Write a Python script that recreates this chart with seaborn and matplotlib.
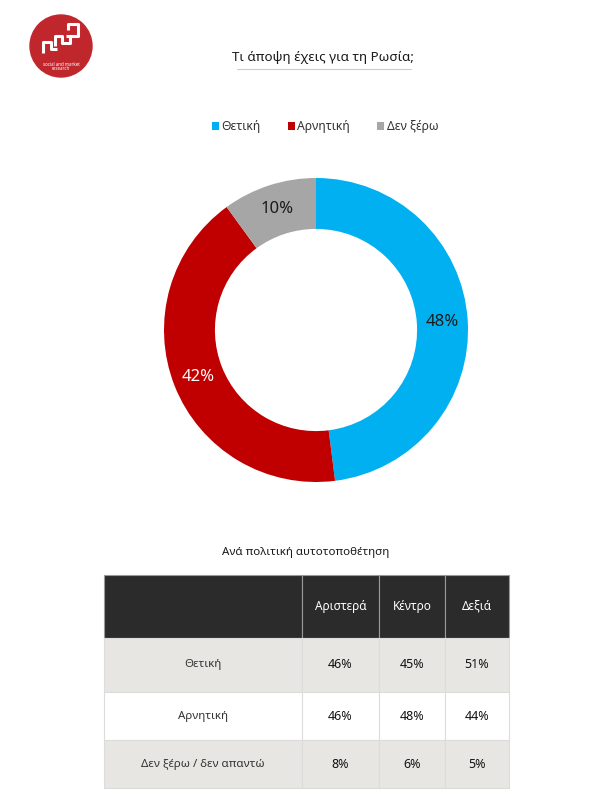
import numpy as np
import pandas as pd
import seaborn as sns
import matplotlib.pyplot as plt
from matplotlib.patches import Circle

sns.set_theme(style="white")
plt.rcParams['font.family'] = ['Noto Sans', 'DejaVu Sans']

# donut data
labels = ['Θετική', 'Αρνητική', 'Δεν ξέρω']
shares = [48, 42, 10]
colors = ['#00B0F0', '#C00000', '#A6A6A6']
label_colors = ['#1a1a1a', 'white', '#1a1a1a']

# table data
groups = ['Αριστερά', 'Κέντρο', 'Δεξιά']
answers = ['Θετική', 'Αρνητική', 'Δεν ξέρω / δεν απαντώ']
positive = [46, 45, 51]
negative = [46, 48, 44]
dontknow = [8, 6, 5]

title = 'Τι άποψη έχεις για τη Ρωσία;'
table_title = 'Ανά πολιτική αυτοτοποθέτηση'

W, H = 598, 806
fig = plt.figure(figsize=(W / 100, H / 100), dpi=100)
fig.patch.set_facecolor('white')

# overlay axes in pixel coords for decoration
ov = fig.add_axes([0, 0, 1, 1])
ov.set_xlim(0, W)
ov.set_ylim(H, 0)
ov.axis('off')

# logo
ov.add_patch(Circle((61, 46), 31, color='#C0272D'))
ov.plot([43, 43, 51, 51, 57], [53, 42, 42, 49, 49], color='white', lw=2.2, solid_capstyle='butt')
ov.plot([55, 55, 62, 62, 70, 70], [46, 36, 36, 43, 43, 36], color='white', lw=2.2, solid_capstyle='butt')
ov.plot([66, 78, 78, 68, 68], [36, 36, 24, 24, 30], color='white', lw=2.2, solid_capstyle='butt')
ov.text(61, 64, 'social and market', color='white', fontsize=3.2, ha='center', va='center')
ov.text(61, 69, 'research', color='white', fontsize=3.2, ha='center', va='center')

# title + underline
ov.text(323, 57, title, fontsize=9.6, ha='center', va='center', color='#1a1a1a')
ov.plot([237, 411], [69, 69], color='#cccccc', lw=0.8)
ov.text(306, 553, table_title, fontsize=8.3, ha='center', va='center', color='#1a1a1a')

# donut
ax = fig.add_axes([164 / W, 1 - 482 / H, 304 / W, 304 / H])
wedges, texts, autotexts = ax.pie(
    shares, colors=colors, startangle=90, counterclock=False,
    autopct='%d%%', pctdistance=0.835,
    wedgeprops=dict(width=0.335, edgecolor='none'),
    textprops=dict(fontsize=12))
for t, c in zip(autotexts, label_colors):
    t.set_color(c)
ax.set_xlim(-1, 1)
ax.set_ylim(-1, 1)
ax.set_aspect('equal')

leg = ax.legend(wedges, labels, loc='center', bbox_to_anchor=(0.53, 1.168),
                ncol=3, frameon=False, fontsize=8.8, handlelength=0.6,
                handleheight=0.6, handletextpad=0.2, columnspacing=2.2)
for t in leg.get_texts():
    t.set_color('#333333')

# table
tab_ax = fig.add_axes([104 / W, 1 - 788 / H, 405 / W, 213 / H])
tab_ax.axis('off')
df = pd.DataFrame([positive, negative, dontknow], index=answers, columns=groups)
cell_text = [[''] + groups] + [[a] + [f'{v}%' for v in df.loc[a]] for a in answers]
row_bg = ['#2b2b2b', '#E7E6E2', '#ffffff', '#E7E6E2']
cell_colors = [[c] * 4 for c in row_bg]
tbl = tab_ax.table(cellText=cell_text, cellColours=cell_colors,
                   cellLoc='center', bbox=[0, 0, 1, 1])
tbl.auto_set_font_size(False)
col_w = [198, 77, 66, 64]
row_h = [63, 54, 48, 48]
for (r, c), cell in tbl.get_celld().items():
    cell.set_width(col_w[c] / 405)
    cell.set_height(row_h[r] / 213)
    cell.set_edgecolor('#dcdcdc')
    cell.set_linewidth(0.8)
    txt = cell.get_text()
    if r == 0:
        txt.set_fontsize(8.5)
        txt.set_color('white')
        cell.set_edgecolor('#9a9a9a')
    elif c == 0:
        txt.set_fontsize(8.3)
        txt.set_color('#333333')
    else:
        txt.set_fontsize(9)
        txt.set_color('#111111')

fig.savefig('out.png', dpi=100, facecolor='white')
